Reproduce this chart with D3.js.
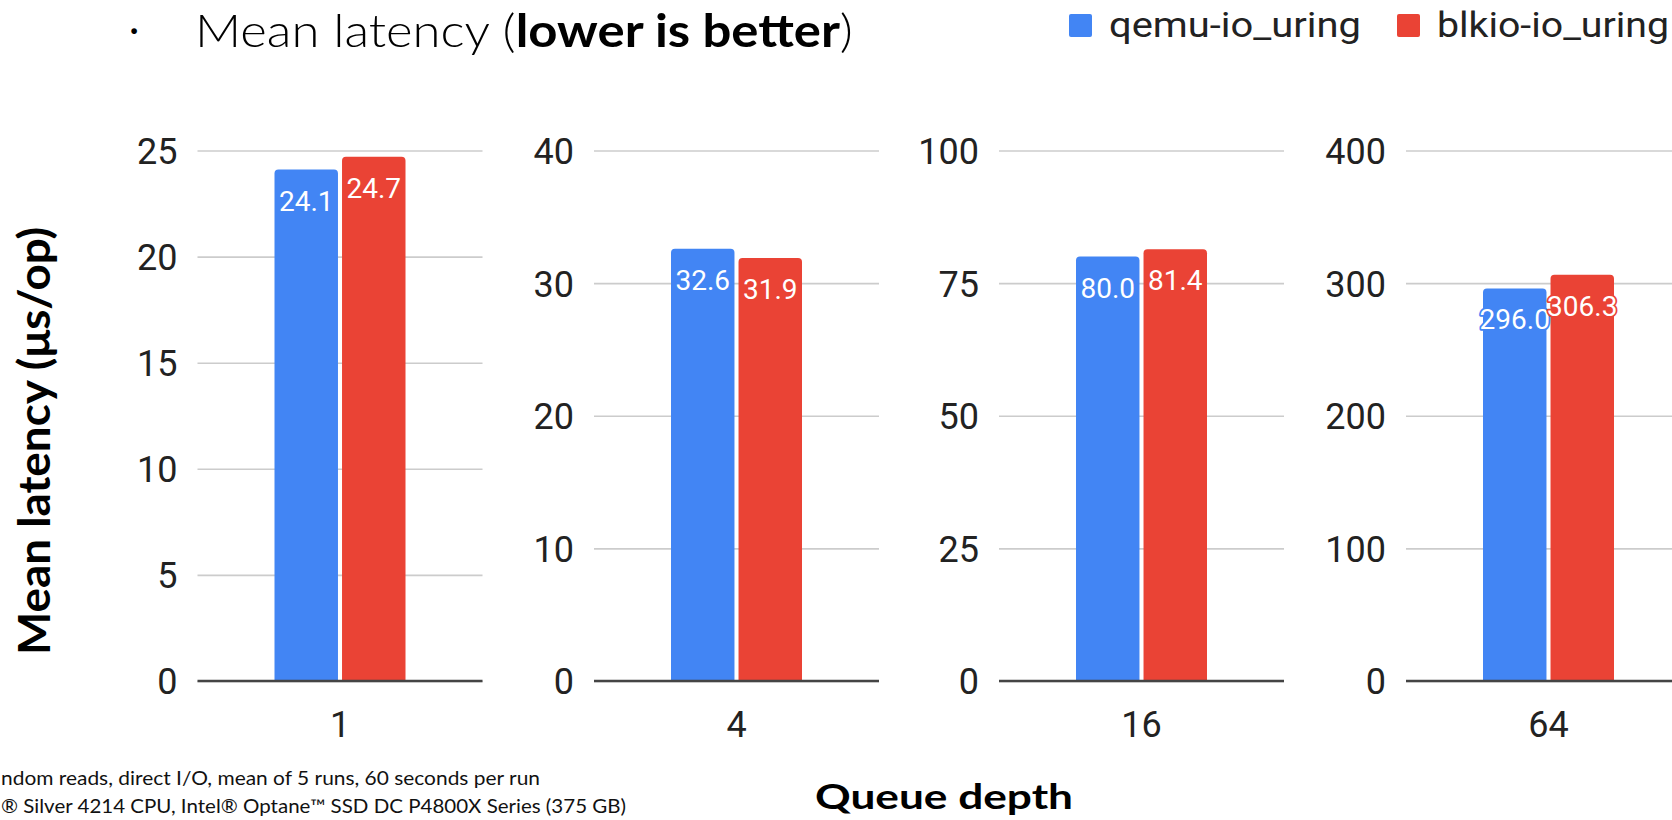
<!DOCTYPE html>
<html>
<head>
<meta charset="utf-8">
<script src="https://cdn.jsdelivr.net/npm/d3@7"></script>
<style>
  html, body { margin: 0; padding: 0; background: #fff; overflow: hidden; }
  svg { display: block; }
</style>
</head>
<body>
<svg id="chart" width="1672" height="820"></svg>
<script>
// ---- data ----
const queueDepths = ["1", "4", "16", "64"];
const seriesNames = ["qemu-io_uring", "blkio-io_uring"];
const qemuLatency = [24.1, 32.6, 80.0, 296.0];
const blkioLatency = [24.7, 31.9, 81.4, 306.3];
const yMaxima = [25, 40, 100, 400];
const yTickValues = [
  [0, 5, 10, 15, 20, 25],
  [0, 10, 20, 30, 40],
  [0, 25, 50, 75, 100],
  [0, 100, 200, 300, 400]
];
const footnoteLines = [
  "ndom reads, direct I/O, mean of 5 runs, 60 seconds per run",
  "® Silver 4214 CPU, Intel® Optane™ SSD DC P4800X Series (375 GB)"
];

// ---- layout ----
const colors = ["#4285F4", "#EA4335"];
const panelLeft = [197.5, 594, 999, 1406];
const panelWidth = 285;
const plotTop = 150.5, plotBottom = 681;
const chartFont = "Roboto, 'Liberation Sans', Arial, sans-serif";
const slideFont = "Lato, 'Open Sans', sans-serif";

const svg = d3.select("#chart");

// stretch a text element horizontally so it spans the given width
function fitWidth(sel, width) {
  sel.attr("textLength", width).attr("lengthAdjust", "spacingAndGlyphs");
}

// bar path with rounded top corners
function barPath(x, y, w, h, r) {
  r = Math.min(r, h, w / 2);
  return `M${x},${y + h}V${y + r}Q${x},${y} ${x + r},${y}H${x + w - r}Q${x + w},${y} ${x + w},${y + r}V${y + h}Z`;
}

const seriesScale = d3.scaleBand()
  .domain(seriesNames)
  .range([77, 208])
  .paddingInner(0.06);

const seriesValues = [qemuLatency, blkioLatency];

queueDepths.forEach((qd, i) => {
  const g = svg.append("g").attr("transform", `translate(${panelLeft[i]},0)`);
  const y = d3.scaleLinear().domain([0, yMaxima[i]]).range([plotBottom, plotTop]);

  // gridlines + tick labels
  const axis = d3.axisLeft(y)
    .tickValues(yTickValues[i])
    .tickSize(-panelWidth)
    .tickPadding(20)
    .tickFormat(d3.format("d"));
  const ag = g.append("g").call(axis);
  ag.select(".domain").remove();
  ag.selectAll(".tick line").attr("stroke", "#cccccc").attr("stroke-width", 1.6);
  ag.selectAll(".tick text")
    .attr("fill", "#222")
    .attr("font-family", chartFont)
    .attr("font-size", 36)
    .attr("dy", "0.36em");

  // bars
  const rows = seriesNames.map((s, k) => ({ series: s, value: seriesValues[k][i], color: colors[k] }));
  g.selectAll("path.bar").data(rows).enter().append("path")
    .attr("class", "bar")
    .attr("fill", d => d.color)
    .attr("d", d => barPath(seriesScale(d.series), y(d.value), seriesScale.bandwidth(), plotBottom - y(d.value), 4));

  // value labels
  g.selectAll("text.val").data(rows).enter().append("text")
    .attr("class", "val")
    .attr("x", d => seriesScale(d.series) + seriesScale.bandwidth() / 2)
    .attr("y", d => y(d.value) + 41)
    .attr("text-anchor", "middle")
    .attr("font-family", chartFont)
    .attr("font-size", 28)
    .attr("fill", "#fff")
    .attr("stroke", d => d.color)
    .attr("stroke-width", 3.5)
    .attr("stroke-linejoin", "round")
    .attr("paint-order", "stroke")
    .text(d => d.value.toFixed(1));

  // baseline
  g.append("line")
    .attr("x1", 0).attr("x2", panelWidth)
    .attr("y1", y(0)).attr("y2", y(0))
    .attr("stroke", "#444").attr("stroke-width", 2.4);

  // category label
  g.append("text")
    .attr("x", panelWidth / 2)
    .attr("y", 737)
    .attr("text-anchor", "middle")
    .attr("font-family", chartFont)
    .attr("font-size", 36)
    .attr("fill", "#222")
    .text(qd);
});

// ---- title ----
svg.append("text")
  .attr("x", 134).attr("y", 28)
  .attr("text-anchor", "middle")
  .attr("dominant-baseline", "central")
  .attr("font-family", slideFont)
  .attr("font-weight", 700)
  .attr("font-size", 30)
  .text("·");

const title = svg.append("text")
  .attr("x", 195).attr("y", 47)
  .attr("font-family", slideFont)
  .attr("font-size", 46)
  .attr("fill", "#000");
title.append("tspan").attr("font-weight", 300).text("Mean latency (");
title.append("tspan").attr("font-weight", 700).text("lower is better");
title.append("tspan").attr("font-weight", 300).text(")");
fitWidth(title, 658);

// ---- legend ----
const legendX = [1069, 1397];
const legendTextWidth = [252, 232];
seriesNames.forEach((s, k) => {
  svg.append("rect")
    .attr("x", legendX[k]).attr("y", 14)
    .attr("width", 23).attr("height", 23)
    .attr("rx", 2)
    .attr("fill", colors[k]);
  const t = svg.append("text")
    .attr("x", legendX[k] + 40).attr("y", 37)
    .attr("font-family", chartFont)
    .attr("font-size", 35)
    .attr("fill", "#222")
    .text(s);
  fitWidth(t, legendTextWidth[k]);
});

// ---- axis titles ----
const yTitle = svg.append("text")
  .attr("transform", "translate(50,441) rotate(-90)")
  .attr("text-anchor", "middle")
  .attr("font-family", slideFont)
  .attr("font-weight", 700)
  .attr("font-size", 44)
  .attr("fill", "#000")
  .text("Mean latency (μs/op)");
fitWidth(yTitle, 428);

const xTitle = svg.append("text")
  .attr("x", 944).attr("y", 809)
  .attr("text-anchor", "middle")
  .attr("font-family", slideFont)
  .attr("font-weight", 700)
  .attr("font-size", 35)
  .attr("fill", "#000")
  .text("Queue depth");
fitWidth(xTitle, 258);

// ---- footnotes ----
const footLeft = [1, 1];
const footWidth = [539, 625];
const footBase = [785, 813];
footnoteLines.forEach((line, k) => {
  const t = svg.append("text")
    .attr("x", footLeft[k]).attr("y", footBase[k])
    .attr("font-family", slideFont)
    .attr("font-size", 19)
    .attr("fill", "#111")
    .text(line);
  fitWidth(t, footWidth[k]);
});
</script>
</body>
</html>
